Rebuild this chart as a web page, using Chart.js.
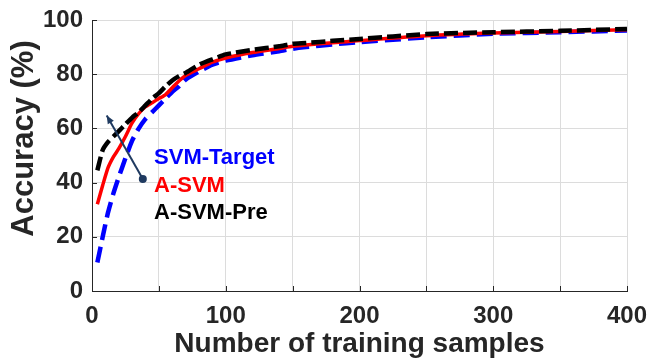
<!DOCTYPE html>
<html>
<head>
<meta charset="utf-8">
<script src="https://cdn.jsdelivr.net/npm/chart.js@4/dist/chart.umd.min.js"></script>
<style>
  html, body { margin: 0; padding: 0; background: #ffffff; }
  #wrap { width: 650px; height: 358px; position: relative; }
</style>
</head>
<body>
<div id="wrap"><canvas id="c" width="650" height="358"></canvas></div>
<script>
// ---- Data ----
const samples      = [4, 8, 12, 16, 20, 25, 30, 35, 40, 45, 50, 55, 60, 65, 70, 80, 90, 100, 120, 140, 150, 160, 180, 200, 250, 300, 350, 400];
const svmTarget    = [10.5, 20, 29, 36, 42, 49, 55.5, 60, 63.5, 66, 68.5, 71, 73.5, 75.5, 78, 81, 83.5, 85, 87, 88.5, 89.4, 90, 91, 91.8, 93.6, 94.9, 95.5, 96.1];
const aSvm         = [32, 39, 45.5, 49.5, 52.5, 57, 62, 65.5, 68, 69.5, 71, 72.5, 75, 77.5, 79.5, 82, 84.5, 86, 88, 89.5, 90.3, 90.8, 91.6, 92.4, 94.2, 95.2, 95.8, 96.4];
const aSvmPre      = [44.5, 52, 55, 57, 59, 61.5, 64, 66, 68.5, 71, 73, 75.5, 77.7, 79.3, 80.5, 83.5, 85.5, 87.3, 89, 90.3, 91.2, 91.5, 92.3, 93, 94.8, 95.5, 96, 96.7];
const seriesNames  = ['SVM-Target', 'A-SVM', 'A-SVM-Pre'];
const xTickLabels  = [0, 100, 200, 300, 400];
const yTickLabels  = [0, 20, 40, 60, 80, 100];
const arrowFrom    = {x: 38, y: 41.3};
const arrowTo      = {x: 11, y: 64.8};
const labelAnchor  = {x: 46.4, y: 46.7};

const FONT = "'Liberation Sans', Arial, Helvetica, sans-serif";
const INK = '#262626';
const colors = ['#0000ff', '#ff0000', '#000000'];

function pts(ys) { return samples.map((x, i) => ({x: x, y: ys[i]})); }

const annotationPlugin = {
  id: 'annot',
  beforeDatasetsDraw(chart) {
    const ctx = chart.ctx, xs = chart.scales.x, ys = chart.scales.y, a = chart.chartArea;
    ctx.save();
    ctx.strokeStyle = INK; ctx.lineWidth = 1;
    xs.ticks.forEach(t => {
      const px = Math.round(xs.getPixelForValue(t.value)) + 0.5;
      ctx.beginPath(); ctx.moveTo(px, a.bottom); ctx.lineTo(px, a.bottom - 5); ctx.stroke();
    });
    ys.ticks.forEach(t => {
      const py = Math.round(ys.getPixelForValue(t.value)) + 0.5;
      ctx.beginPath(); ctx.moveTo(a.left, py); ctx.lineTo(a.left + 5, py); ctx.stroke();
    });
    ctx.restore();
  },
  afterDraw(chart) {
    const ctx = chart.ctx, xs = chart.scales.x, ys = chart.scales.y, a = chart.chartArea;
    ctx.save();
    const x0 = xs.getPixelForValue(arrowFrom.x), y0 = ys.getPixelForValue(arrowFrom.y);
    const x1 = xs.getPixelForValue(arrowTo.x), y1 = ys.getPixelForValue(arrowTo.y);
    const navy = '#1f3a60';
    ctx.strokeStyle = navy; ctx.fillStyle = navy; ctx.lineWidth = 2;
    ctx.beginPath(); ctx.moveTo(x0, y0); ctx.lineTo(x1, y1); ctx.stroke();
    ctx.beginPath(); ctx.arc(x0, y0, 4, 0, Math.PI * 2); ctx.fill();
    const ang = Math.atan2(y1 - y0, x1 - x0), L = 9, W = 0.4;
    ctx.beginPath();
    ctx.moveTo(x1, y1);
    ctx.lineTo(x1 - L * Math.cos(ang - W), y1 - L * Math.sin(ang - W));
    ctx.lineTo(x1 - L * Math.cos(ang + W), y1 - L * Math.sin(ang + W));
    ctx.closePath(); ctx.fill();
    const lx = xs.getPixelForValue(labelAnchor.x), ly = ys.getPixelForValue(labelAnchor.y);
    ctx.font = 'bold 22px ' + FONT;
    ctx.textAlign = 'left'; ctx.textBaseline = 'alphabetic';
    seriesNames.forEach((n, i) => {
      ctx.fillStyle = colors[i];
      ctx.fillText(n, lx, ly + i * 27.4);
    });
    ctx.fillStyle = INK;
    ctx.font = 'bold 31px ' + FONT;
    ctx.translate(24, (a.top + a.bottom) / 2 - 17);
    ctx.rotate(-Math.PI / 2);
    ctx.textAlign = 'center'; ctx.textBaseline = 'middle';
    ctx.fillText('Accuracy (%)', 0, 0);
    ctx.restore();
  }
};

new Chart(document.getElementById('c'), {
  type: 'line',
  data: {
    datasets: [
      { label: seriesNames[0], data: pts(svmTarget), borderColor: colors[0], borderWidth: 4.5, borderDash: [16, 7], pointRadius: 0, tension: 0.2, order: 2 },
      { label: seriesNames[1], data: pts(aSvm), borderColor: colors[1], borderWidth: 3.5, pointRadius: 0, tension: 0.2, order: 1 },
      { label: seriesNames[2], data: pts(aSvmPre), borderColor: colors[2], borderWidth: 4.5, borderDash: [14, 5], pointRadius: 0, tension: 0.2, order: 0 }
    ]
  },
  options: {
    responsive: false,
    animation: false,
    layout: { padding: { top: 20, right: 23, left: 0, bottom: 0 } },
    plugins: { legend: { display: false }, tooltip: { enabled: false } },
    scales: {
      x: {
        type: 'linear', min: 0, max: 400,
        afterFit(s) { s.height = 67; s.paddingLeft = 0; s.paddingRight = 0; },
        grid: { color: '#dcdcdc', drawTicks: false },
        border: { color: INK, width: 1 },
        ticks: {
          stepSize: 50, padding: 11, color: INK, maxRotation: 0,
          font: { family: FONT, size: 24, weight: 'bold' },
          callback: v => xTickLabels.includes(v) ? String(v) : ''
        },
        title: { display: true, text: 'Number of training samples', color: INK,
                 font: { family: FONT, size: 28, weight: 'bold', lineHeight: 1 },
                 padding: { top: 0, bottom: 0 } }
      },
      y: {
        type: 'linear', min: 0, max: 100,
        afterFit(s) { s.width = 92; s.paddingTop = 0; s.paddingBottom = 0; },
        grid: { color: '#dcdcdc', drawTicks: false },
        border: { color: INK, width: 1 },
        ticks: {
          stepSize: 10, padding: 9, color: INK,
          font: { family: FONT, size: 24, weight: 'bold' },
          callback: v => yTickLabels.includes(v) ? String(v) : ''
        }
      }
    }
  },
  plugins: [annotationPlugin]
});
</script>
</body>
</html>
